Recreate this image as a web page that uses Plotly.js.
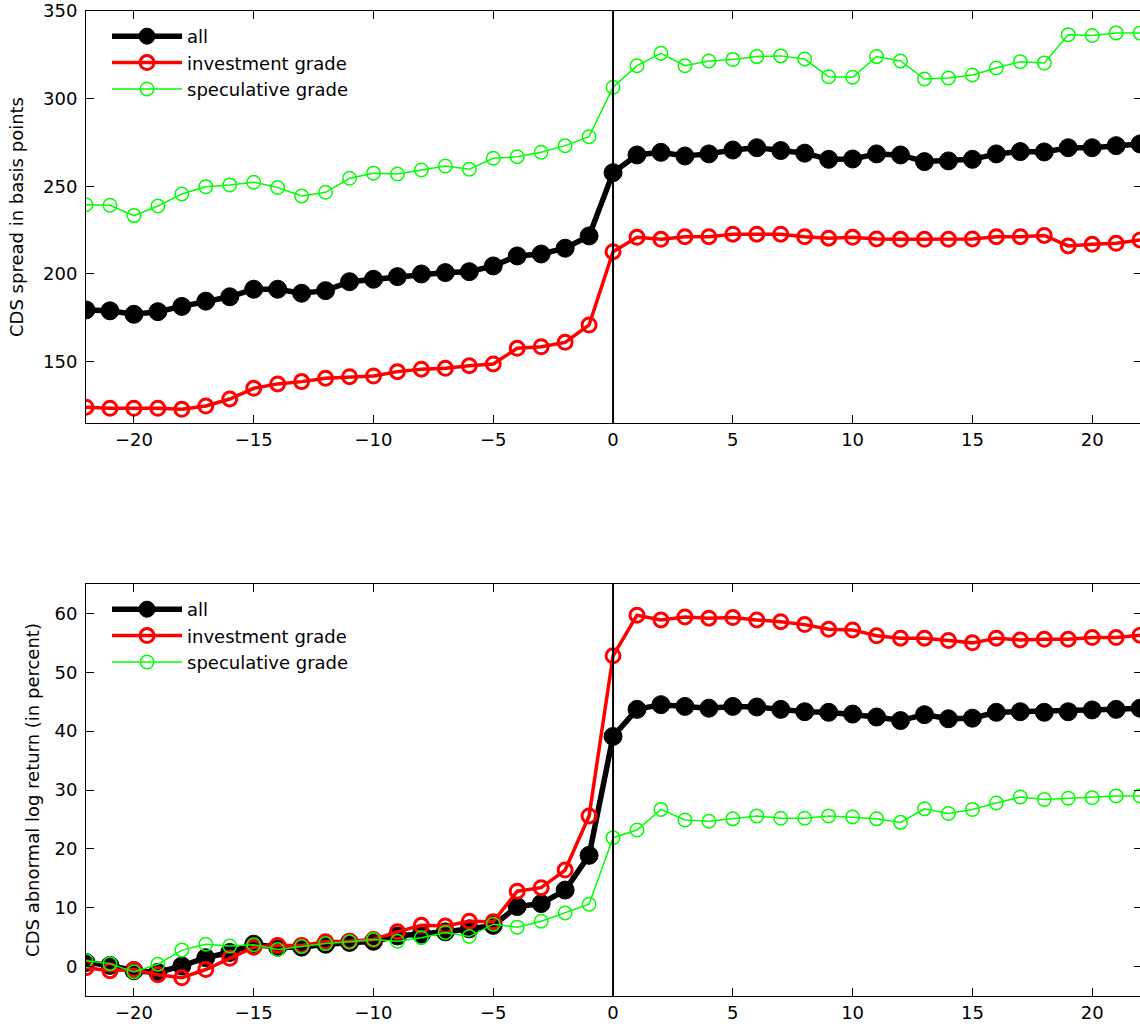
<!DOCTYPE html>
<html>
<head>
<meta charset="utf-8">
<script src="https://cdn.plot.ly/plotly-3.0.1.min.js"></script>
<style>
html, body { margin: 0; padding: 0; overflow: hidden; background: #fff; }
#chart { width: 1142px; height: 1027px; }
</style>
</head>
<body>
<div id="chart"></div>
<script>
// Event days relative to the event (day 0)
const days = [-22,-21,-20,-19,-18,-17,-16,-15,-14,-13,-12,-11,-10,-9,-8,-7,-6,-5,-4,-3,-2,-1,0,1,2,3,4,5,6,7,8,9,10,11,12,13,14,15,16,17,18,19,20,21,22];

// Top panel: CDS spread in basis points
const spreadAll = [179.5,179,177,178.5,181.5,184.5,187,191.3,191.3,189,190.5,195.6,197,
  198.5,200,200.8,201.3,204.6,210.3,211.4,214.7,221.7,
  257.8,267.9,269.4,267.3,268.5,270.7,
  272,270.4,268.9,265.4,265.6,268.5,267.9,264.1,264.5,265.4,268.5,269.8,269.6,272,272,273.2,274.2];
const spreadInvestment = [124,123.4,123.4,123.4,122.8,124.7,128.7,134.8,137.3,138.6,140.5,141.4,141.8,
  144.3,145.7,146.2,147.7,148.7,157.6,158.5,161,170.9,
  212.7,220.9,219.8,221.3,221.3,222.7,
  222.7,222.7,221.3,220.4,220.9,220,219.8,219.8,219.8,220,221.3,221.3,222,216,216.9,217.5,219.4];
const spreadSpeculative = [239.5,239.2,233.3,238.8,245.6,249.8,250.8,252.3,249.3,244.5,246.6,254.6,257.5,
  257,259.3,261.6,259.7,266,266.9,269.4,273.2,278.3,
  306.5,318.8,325.9,318.8,321.5,322.4,
  324,324.4,322.6,312.5,312.2,324,321.5,311.2,311.8,313.5,317.5,321.1,320.4,336.5,336,337.5,337.4];

// Bottom panel: CDS abnormal log return (in percent)
const returnAll = [0.7,0.2,-0.7,-1.0,0.1,1.5,2.4,3.8,3.3,3.3,3.8,4.1,4.3,
  5.2,5.5,5.9,6.4,7.0,10.2,10.7,13,18.9,
  39.1,43.7,44.5,44.2,43.9,44.2,
  44.1,43.7,43.3,43.2,42.9,42.4,41.8,42.8,42.1,42.2,43.2,43.3,43.2,43.3,43.6,43.7,43.9];
const returnInvestment = [-0.2,-0.7,-0.5,-1.4,-1.9,-0.5,1.4,3.3,3.6,3.6,4.2,4.3,4.6,
  5.9,7.0,6.9,7.7,7.6,12.8,13.4,16.4,25.6,
  52.8,59.7,58.9,59.4,59.2,59.3,
  58.9,58.6,58.1,57.3,57.2,56.2,55.8,55.8,55.4,55.0,55.8,55.5,55.6,55.6,55.9,55.9,56.3];
const returnSpeculative = [1.0,0.5,-0.9,0.4,2.8,3.8,3.5,3.7,2.9,3.4,3.9,4.2,4.6,
  4.3,4.9,5.8,5.1,7.2,6.7,7.7,9.1,10.6,
  21.9,23.2,26.7,24.9,24.7,25.1,
  25.6,25.2,25.2,25.6,25.4,25.1,24.5,26.8,26.0,26.7,27.8,28.8,28.4,28.6,28.7,29.0,29.0];

const seriesNames = ['all', 'investment grade', 'speculative grade'];
const xTicks = [-20,-15,-10,-5,0,5,10,15,20];
const yTicksTop = [150,200,250,300,350];
const yTicksBottom = [0,10,20,30,40,50,60];

const FONT = 'DejaVu Sans, Verdana, sans-serif';

const styles = [
  {line: {color: '#000000', width: 5.5}, marker: {symbol: 'circle', size: 18, color: '#000000', line: {color: '#000000', width: 1}}},
  {line: {color: '#ff0000', width: 3.5}, marker: {symbol: 'circle-open', size: 14, color: '#ff0000', line: {color: '#ff0000', width: 3}}},
  {line: {color: '#00ff00', width: 1.5}, marker: {symbol: 'circle-open', size: 13.5, color: '#00ff00', line: {color: '#00ff00', width: 1.5}}}
];

function mk(y, i, xa, ya, leg) {
  return {
    x: days, y: y, type: 'scatter', mode: 'lines+markers', name: seriesNames[i],
    xaxis: xa, yaxis: ya, legend: leg,
    line: styles[i].line, marker: styles[i].marker, cliponaxis: true
  };
}

const data = [
  mk(spreadAll, 0, 'x', 'y', 'legend'),
  mk(spreadInvestment, 1, 'x', 'y', 'legend'),
  mk(spreadSpeculative, 2, 'x', 'y', 'legend'),
  mk(returnAll, 0, 'x2', 'y2', 'legend2'),
  mk(returnInvestment, 1, 'x2', 'y2', 'legend2'),
  mk(returnSpeculative, 2, 'x2', 'y2', 'legend2')
];

const H = 1027;
const xCommon = {
  range: [-22, 22.08], tickvals: xTicks, ticks: 'inside', ticklen: 8, tickwidth: 1, tickcolor: '#000',
  showline: true, linecolor: '#000', linewidth: 1, mirror: 'ticks', showgrid: false, zeroline: false,
  tickfont: {family: FONT, size: 18, color: '#000'}, fixedrange: true
};
const yCommon = {
  ticks: 'inside', ticklen: 8, tickwidth: 1, tickcolor: '#000',
  showline: true, linecolor: '#000', linewidth: 1, mirror: 'ticks', showgrid: false, zeroline: false,
  tickfont: {family: FONT, size: 18, color: '#000'}, fixedrange: true, ticklabelstandoff: 4
};

const layout = {
  width: 1142, height: H,
  margin: {l: 86, r: 0, t: 0, b: 0},
  paper_bgcolor: '#fff', plot_bgcolor: '#fff',
  font: {family: FONT, color: '#000'},
  xaxis: Object.assign({}, xCommon, {domain: [0, 1], anchor: 'y'}),
  yaxis: Object.assign({}, yCommon, {
    domain: [1 - 423/H, 1 - 11/H], range: [115, 350], tickvals: yTicksTop, anchor: 'x',
    title: {text: 'CDS spread in basis points', font: {family: FONT, size: 18, color: '#000'}, standoff: 14}
  }),
  xaxis2: Object.assign({}, xCommon, {domain: [0, 1], anchor: 'y2'}),
  yaxis2: Object.assign({}, yCommon, {
    domain: [1 - 996/H, 1 - 584/H], range: [-5, 65], tickvals: yTicksBottom, anchor: 'x2',
    title: {text: 'CDS abnormal log return (in percent)', font: {family: FONT, size: 18, color: '#000'}, standoff: 10}
  }),
  showlegend: true,
  legend: {
    x: 0.0199, y: 1 - 18/H, xanchor: 'left', yanchor: 'top', bgcolor: 'rgba(0,0,0,0)', borderwidth: 0,
    font: {family: FONT, size: 18, color: '#000'}, itemwidth: 70, tracegroupgap: 0
  },
  legend2: {
    x: 0.0199, y: 1 - 591/H, xanchor: 'left', yanchor: 'top', bgcolor: 'rgba(0,0,0,0)', borderwidth: 0,
    font: {family: FONT, size: 18, color: '#000'}, itemwidth: 70, tracegroupgap: 0
  },
  shapes: [
    {type: 'line', xref: 'x', yref: 'y domain', x0: 0, x1: 0, y0: 0, y1: 1, line: {color: '#000', width: 2}},
    {type: 'line', xref: 'x2', yref: 'y2 domain', x0: 0, x1: 0, y0: 0, y1: 1, line: {color: '#000', width: 2}}
  ]
};

Plotly.newPlot('chart', data, layout, {displayModeBar: false, staticPlot: true});
</script>
</body>
</html>
